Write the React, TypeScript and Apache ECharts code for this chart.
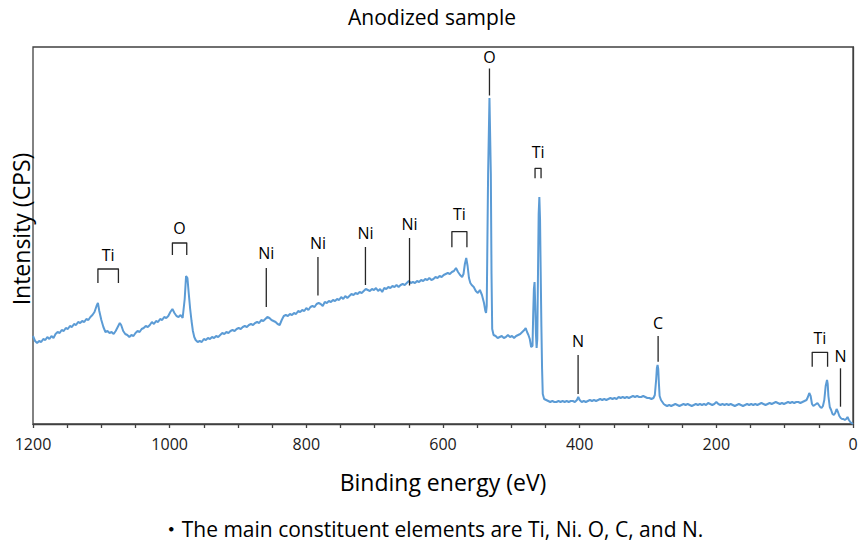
import React, { useEffect, useRef } from "react";
import * as echarts from "echarts";

// Binding energy (eV) and intensity (arbitrary units)
const energy: number[] = [
  1200, 1197, 1194, 1191, 1188, 1185, 1182, 1179, 1176, 1173, 1170, 1167, 1164, 1161, 1158, 1155, 1152, 1149, 1146, 1143,
  1140, 1137, 1134, 1131, 1128, 1125, 1122, 1119, 1116, 1113, 1110, 1107, 1105, 1103, 1100, 1097, 1094, 1091, 1088, 1085,
  1082, 1079, 1076, 1073, 1071, 1068, 1065, 1062, 1059, 1056, 1053, 1050, 1047, 1044, 1041, 1038, 1035, 1032, 1029, 1026,
  1023, 1020, 1017, 1014, 1011, 1008, 1005, 1002, 999, 996, 993, 990, 987, 984, 981, 978, 976, 974, 972, 970,
  968, 966, 964, 962, 959, 956, 953, 950, 947, 944, 941, 938, 935, 932, 929, 926, 923, 920, 917, 914,
  911, 908, 905, 902, 899, 896, 893, 890, 887, 884, 881, 878, 875, 872, 869, 866, 863, 860, 857, 854,
  851, 848, 845, 842, 839, 836, 833, 830, 827, 824, 821, 818, 815, 812, 809, 806, 803, 800, 797, 794,
  791, 788, 785, 782, 779, 776, 773, 770, 767, 764, 761, 758, 755, 752, 749, 746, 743, 740, 737, 734,
  731, 728, 725, 722, 719, 716, 713, 710, 707, 704, 701, 698, 695, 692, 689, 686, 683, 680, 677, 674,
  671, 668, 665, 662, 659, 656, 653, 650, 647, 644, 641, 638, 635, 632, 629, 626, 623, 620, 617, 614,
  611, 608, 605, 602, 599, 596, 593, 590, 587, 584, 581, 578, 575, 572, 570, 568, 566, 564, 562, 560,
  558, 555, 552, 549, 546, 543, 540, 538, 537, 536, 534, 532, 530, 529, 528, 526, 523, 520, 517, 514,
  511, 508, 505, 502, 499, 496, 493, 490, 487, 484, 481, 479, 477, 475, 473, 471, 469, 468, 467, 466,
  465, 464, 463, 462, 461, 460, 459, 458, 457, 456, 455, 454, 452, 449, 446, 443, 440, 437, 434, 431,
  428, 425, 422, 419, 416, 413, 410, 407, 404, 402, 400, 397, 394, 391, 388, 385, 382, 379, 376, 373,
  370, 367, 364, 361, 358, 355, 352, 349, 346, 343, 340, 337, 334, 331, 328, 325, 322, 319, 316, 313,
  310, 307, 304, 301, 298, 295, 292, 290, 288, 287, 286, 285, 284, 283, 281, 279, 277, 275, 272, 269,
  266, 263, 260, 257, 254, 251, 248, 245, 242, 239, 236, 233, 230, 227, 224, 221, 218, 215, 212, 209,
  206, 203, 200, 197, 194, 191, 188, 185, 182, 179, 176, 173, 170, 167, 164, 161, 158, 155, 152, 149,
  146, 143, 140, 137, 134, 131, 128, 125, 122, 119, 116, 113, 110, 107, 104, 101, 98, 95, 92, 89,
  86, 83, 80, 77, 74, 71, 68, 66, 64, 62, 60, 58, 56, 54, 52, 50, 48, 46, 44, 42,
  40, 38, 37, 36, 34, 32, 30, 28, 26, 24, 22, 20, 18, 16, 14, 12, 10, 8, 6, 4,
  2, 0,
];
const intensity: number[] = [
  88, 83, 81, 83, 82, 85, 84, 87, 85, 88, 86, 90, 92, 91, 94, 93, 96, 95, 98, 97,
  100, 99, 102, 101, 103, 102, 105, 104, 107, 109, 112, 118, 121, 113, 104, 97, 92, 93, 91, 92,
  90, 93, 97, 101, 99, 93, 90, 89, 87, 89, 88, 91, 93, 92, 95, 96, 98, 97, 99, 102,
  100, 103, 102, 105, 104, 107, 106, 108, 112, 115, 111, 108, 107, 109, 106, 125, 148, 146, 130, 115,
  103, 93, 87, 84, 82, 83, 82, 85, 84, 86, 85, 87, 86, 88, 87, 89, 91, 90, 92, 91,
  93, 94, 93, 95, 96, 95, 97, 98, 97, 99, 100, 99, 101, 102, 101, 104, 103, 105, 107, 106,
  104, 103, 102, 100, 99, 104, 108, 109, 108, 110, 109, 111, 110, 113, 112, 114, 113, 116, 114, 117,
  118, 117, 120, 121, 120, 118, 122, 121, 123, 122, 124, 123, 125, 124, 127, 125, 128, 126, 128, 130,
  129, 131, 130, 132, 131, 133, 135, 134, 133, 135, 134, 136, 133, 135, 132, 136, 135, 137, 136, 138,
  137, 139, 137, 139, 140, 139, 141, 143, 141, 142, 141, 143, 142, 144, 143, 145, 144, 146, 144, 145,
  147, 146, 148, 147, 149, 150, 151, 150, 152, 153, 156, 152, 149, 147, 150, 160, 166, 158, 146, 141,
  139, 137, 133, 131, 134, 129, 121, 113, 111, 118, 250, 326, 250, 150, 95, 89, 88, 86, 87, 88,
  86, 87, 89, 87, 88, 86, 88, 89, 90, 92, 94, 96, 92, 89, 85, 77, 78, 110, 135, 142,
  118, 90, 76, 85, 150, 210, 227, 205, 150, 97, 55, 30, 25, 24, 23, 22, 23, 22, 22, 23,
  22, 23, 22, 23, 22, 23, 23, 22, 24, 27, 24, 22, 23, 22, 23, 24, 23, 24, 23, 24,
  25, 24, 25, 24, 25, 26, 25, 26, 25, 27, 26, 27, 26, 27, 26, 27, 28, 27, 28, 27,
  27, 28, 27, 26, 26, 25, 26, 29, 45, 56, 59, 55, 40, 28, 24, 22, 20, 19, 18, 19,
  18, 19, 20, 19, 18, 19, 20, 19, 20, 19, 18, 19, 20, 19, 20, 19, 20, 19, 21, 20,
  19, 20, 22, 20, 19, 20, 19, 20, 19, 20, 19, 18, 19, 20, 19, 18, 19, 20, 19, 20,
  19, 20, 19, 20, 21, 20, 19, 20, 21, 20, 21, 22, 21, 20, 21, 20, 21, 22, 21, 22,
  21, 22, 22, 21, 22, 23, 24, 27, 31, 28, 20, 18, 19, 20, 21, 19, 17, 16, 18, 24,
  38, 44, 40, 28, 17, 14, 10, 9, 11, 15, 12, 8, 6, 5, 5, 4, 5, 7, 4, 2,
  1, 0,
];

// Peak annotations
const annoLabels: string[] = ["Ti", "O", "Ni", "Ni", "Ni", "Ni", "Ti", "O", "Ti", "N", "C", "Ti", "N"];
const annoFrom: number[] = [1105, 996, 858.6, 783, 713.5, 649, 587, 532, 465.3, 402.3, 285.2, 59.7, 18.3];
const annoTo: number[] = [1075, 975, 858.6, 783, 713.5, 649, 565, 532, 456.5, 402.3, 285.2, 37.2, 18.3];
const annoBottom: number[] = [141, 169, 117, 128.5, 139, 138.5, 176.7, 328.5, 245.7, 30, 62.3, 57.3, 17.3];
const annoTop: number[] = [155, 181, 156, 167, 177, 186, 192.3, 355.5, 255.7, 69, 88, 71.7, 55.7];
const annoLabelY: number[] = [169, 196, 171, 181, 191, 200, 210, 366.7, 272.3, 83.3, 101.3, 86.3, 68];

const xTicks = { min: 0, max: 1200, interval: 50, labelStep: 200 };

const FONT = "'Open Sans', 'Noto Sans', 'Noto Sans CJK JP', sans-serif";

export default function App() {
  const ref = useRef<HTMLDivElement>(null);

  useEffect(() => {
    if (!ref.current) return;
    const chart = echarts.init(ref.current, undefined, { renderer: "svg" });

    const lineData = energy.map((e, i) => [e, intensity[i]]);
    const annoData = annoLabels.map((_, i) => [annoFrom[i], annoTo[i], annoBottom[i], annoTop[i], annoLabelY[i]]);
    const ink = "#262626";

    chart.setOption({
      animation: false,
      backgroundColor: "#ffffff",
      title: [
        {
          text: "Anodized sample",
          left: "center",
          top: 6,
          padding: 0,
          textStyle: { fontFamily: FONT, fontSize: 21, fontWeight: "normal", color: "#000" },
        },
        {
          text: "・The main constituent elements are Ti, Ni. O, C, and N.",
          left: "center",
          top: 518,
          padding: 0,
          textStyle: { fontFamily: FONT, fontSize: 21, fontWeight: "normal", color: "#000" },
        },
      ],
      graphic: [
        {
          type: "text",
          x: 21,
          y: 229,
          rotation: Math.PI / 2,
          style: {
            text: "Intensity (CPS)",
            fontFamily: FONT,
            fontSize: 23,
            fill: "#000",
            align: "center",
            verticalAlign: "middle",
          },
        },
      ],
      grid: {
        left: 33,
        right: 11,
        top: 47,
        bottom: 118,
        show: true,
        borderColor: "#404040",
        borderWidth: 1.3,
        containLabel: false,
      },
      xAxis: {
        type: "value",
        inverse: true,
        min: xTicks.min,
        max: xTicks.max,
        interval: xTicks.interval,
        name: "Binding energy (eV)",
        nameLocation: "middle",
        nameGap: 46,
        nameTextStyle: { fontFamily: FONT, fontSize: 23, color: "#000" },
        axisLine: { show: true, lineStyle: { color: "#404040", width: 1.3 } },
        axisTick: { show: true, inside: false, length: 4, lineStyle: { color: "#404040", width: 1.3 } },
        axisLabel: {
          show: true,
          margin: 12,
          fontFamily: FONT,
          fontSize: 16,
          color: "#1a1a1a",
          formatter: (v: number) => (v % xTicks.labelStep === 0 ? String(v) : ""),
        },
        splitLine: { show: false },
      },
      yAxis: {
        type: "value",
        min: 0,
        max: 377,
        axisLine: { show: true, lineStyle: { color: "#404040", width: 1.3 } },
        axisTick: { show: false },
        axisLabel: { show: false },
        splitLine: { show: false },
      },
      series: [
        {
          type: "line",
          data: lineData,
          showSymbol: false,
          symbol: "none",
          lineStyle: { color: "#5B9BD5", width: 2 },
          itemStyle: { color: "#5B9BD5" },
          z: 2,
        },
        {
          type: "custom",
          data: annoData,
          clip: false,
          z: 3,
          renderItem: (params: any, api: any) => {
            const i = params.dataIndex;
            const e1 = api.value(0);
            const e2 = api.value(1);
            const vb = api.value(2);
            const vt = api.value(3);
            const vl = api.value(4);
            const p1b = api.coord([e1, vb]);
            const p1t = api.coord([e1, vt]);
            const p2t = api.coord([e2, vt]);
            const p2b = api.coord([e2, vb]);
            const pl = api.coord([(e1 + e2) / 2, vl]);
            const children: any[] = [];
            if (e1 === e2) {
              children.push({
                type: "line",
                shape: { x1: p1b[0], y1: p1b[1], x2: p1t[0], y2: p1t[1] },
                style: { stroke: ink, lineWidth: 1.3 },
              });
            } else {
              children.push({
                type: "polyline",
                shape: { points: [p1b, p1t, p2t, p2b] },
                style: { stroke: ink, lineWidth: 1.3, fill: "none", lineJoin: "round" },
              });
            }
            children.push({
              type: "text",
              x: pl[0],
              y: pl[1],
              style: {
                text: annoLabels[i],
                fill: "#000",
                fontFamily: FONT,
                fontSize: 16,
                align: "center",
                verticalAlign: "middle",
              },
            });
            return { type: "group", children };
          },
        },
      ],
    });

    return () => {
      chart.dispose();
    };
  }, []);

  return (
    <div
      ref={ref}
      style={{ position: "fixed", left: 0, top: 0, width: 864, height: 542, background: "#fff" }}
    />
  );
}
